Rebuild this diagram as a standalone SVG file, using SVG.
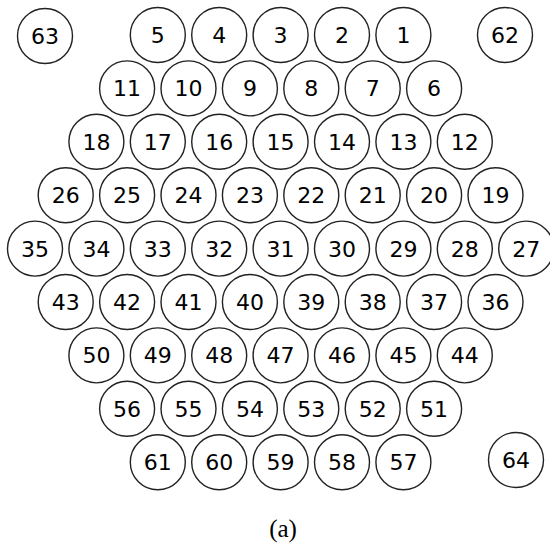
<svg xmlns="http://www.w3.org/2000/svg" width="550" height="544" viewBox="0 0 550 544">
<style>
.n circle{fill:#fff;stroke:#222;stroke-width:1.4}
.n text{font-family:"DejaVu Sans","Verdana",sans-serif;font-size:22px;fill:#000;text-anchor:middle}
.cap{font-family:"Liberation Serif","DejaVu Serif",serif;font-size:25px;text-anchor:middle;fill:#000}
</style>
<rect width="550" height="544" fill="#fff"/>
<g id="nodes">
<g id="n63" class="n"><circle cx="45" cy="36" r="27.5"/><text x="45" y="44">63</text></g>
<g id="n5" class="n"><circle cx="157.8" cy="35" r="27.5"/><text x="157.8" y="43">5</text></g>
<g id="n4" class="n"><circle cx="219.2" cy="35" r="27.5"/><text x="219.2" y="43">4</text></g>
<g id="n3" class="n"><circle cx="280.6" cy="35" r="27.5"/><text x="280.6" y="43">3</text></g>
<g id="n2" class="n"><circle cx="342" cy="35" r="27.5"/><text x="342" y="43">2</text></g>
<g id="n1" class="n"><circle cx="403.4" cy="35" r="27.5"/><text x="403.4" y="43">1</text></g>
<g id="n62" class="n"><circle cx="505" cy="35" r="27.5"/><text x="505" y="43">62</text></g>

<g id="n11" class="n"><circle cx="127.1" cy="88.4" r="27.5"/><text x="127.1" y="96.4">11</text></g>
<g id="n10" class="n"><circle cx="188.5" cy="88.4" r="27.5"/><text x="188.5" y="96.4">10</text></g>
<g id="n9" class="n"><circle cx="249.9" cy="88.4" r="27.5"/><text x="249.9" y="96.4">9</text></g>
<g id="n8" class="n"><circle cx="311.3" cy="88.4" r="27.5"/><text x="311.3" y="96.4">8</text></g>
<g id="n7" class="n"><circle cx="372.7" cy="88.4" r="27.5"/><text x="372.7" y="96.4">7</text></g>
<g id="n6" class="n"><circle cx="434.1" cy="88.4" r="27.5"/><text x="434.1" y="96.4">6</text></g>

<g id="n18" class="n"><circle cx="96.4" cy="141.8" r="27.5"/><text x="96.4" y="149.8">18</text></g>
<g id="n17" class="n"><circle cx="157.8" cy="141.8" r="27.5"/><text x="157.8" y="149.8">17</text></g>
<g id="n16" class="n"><circle cx="219.2" cy="141.8" r="27.5"/><text x="219.2" y="149.8">16</text></g>
<g id="n15" class="n"><circle cx="280.6" cy="141.8" r="27.5"/><text x="280.6" y="149.8">15</text></g>
<g id="n14" class="n"><circle cx="342" cy="141.8" r="27.5"/><text x="342" y="149.8">14</text></g>
<g id="n13" class="n"><circle cx="403.4" cy="141.8" r="27.5"/><text x="403.4" y="149.8">13</text></g>
<g id="n12" class="n"><circle cx="464.8" cy="141.8" r="27.5"/><text x="464.8" y="149.8">12</text></g>

<g id="n26" class="n"><circle cx="65.7" cy="195.2" r="27.5"/><text x="65.7" y="203.2">26</text></g>
<g id="n25" class="n"><circle cx="127.1" cy="195.2" r="27.5"/><text x="127.1" y="203.2">25</text></g>
<g id="n24" class="n"><circle cx="188.5" cy="195.2" r="27.5"/><text x="188.5" y="203.2">24</text></g>
<g id="n23" class="n"><circle cx="249.9" cy="195.2" r="27.5"/><text x="249.9" y="203.2">23</text></g>
<g id="n22" class="n"><circle cx="311.3" cy="195.2" r="27.5"/><text x="311.3" y="203.2">22</text></g>
<g id="n21" class="n"><circle cx="372.7" cy="195.2" r="27.5"/><text x="372.7" y="203.2">21</text></g>
<g id="n20" class="n"><circle cx="434.1" cy="195.2" r="27.5"/><text x="434.1" y="203.2">20</text></g>
<g id="n19" class="n"><circle cx="495.5" cy="195.2" r="27.5"/><text x="495.5" y="203.2">19</text></g>

<g id="n35" class="n"><circle cx="35" cy="248.6" r="27.5"/><text x="35" y="256.6">35</text></g>
<g id="n34" class="n"><circle cx="96.4" cy="248.6" r="27.5"/><text x="96.4" y="256.6">34</text></g>
<g id="n33" class="n"><circle cx="157.8" cy="248.6" r="27.5"/><text x="157.8" y="256.6">33</text></g>
<g id="n32" class="n"><circle cx="219.2" cy="248.6" r="27.5"/><text x="219.2" y="256.6">32</text></g>
<g id="n31" class="n"><circle cx="280.6" cy="248.6" r="27.5"/><text x="280.6" y="256.6">31</text></g>
<g id="n30" class="n"><circle cx="342" cy="248.6" r="27.5"/><text x="342" y="256.6">30</text></g>
<g id="n29" class="n"><circle cx="403.4" cy="248.6" r="27.5"/><text x="403.4" y="256.6">29</text></g>
<g id="n28" class="n"><circle cx="464.8" cy="248.6" r="27.5"/><text x="464.8" y="256.6">28</text></g>
<g id="n27" class="n"><circle cx="526.2" cy="248.6" r="27.5"/><text x="526.2" y="256.6">27</text></g>

<g id="n43" class="n"><circle cx="65.7" cy="302" r="27.5"/><text x="65.7" y="310">43</text></g>
<g id="n42" class="n"><circle cx="127.1" cy="302" r="27.5"/><text x="127.1" y="310">42</text></g>
<g id="n41" class="n"><circle cx="188.5" cy="302" r="27.5"/><text x="188.5" y="310">41</text></g>
<g id="n40" class="n"><circle cx="249.9" cy="302" r="27.5"/><text x="249.9" y="310">40</text></g>
<g id="n39" class="n"><circle cx="311.3" cy="302" r="27.5"/><text x="311.3" y="310">39</text></g>
<g id="n38" class="n"><circle cx="372.7" cy="302" r="27.5"/><text x="372.7" y="310">38</text></g>
<g id="n37" class="n"><circle cx="434.1" cy="302" r="27.5"/><text x="434.1" y="310">37</text></g>
<g id="n36" class="n"><circle cx="495.5" cy="302" r="27.5"/><text x="495.5" y="310">36</text></g>

<g id="n50" class="n"><circle cx="96.4" cy="355.4" r="27.5"/><text x="96.4" y="363.4">50</text></g>
<g id="n49" class="n"><circle cx="157.8" cy="355.4" r="27.5"/><text x="157.8" y="363.4">49</text></g>
<g id="n48" class="n"><circle cx="219.2" cy="355.4" r="27.5"/><text x="219.2" y="363.4">48</text></g>
<g id="n47" class="n"><circle cx="280.6" cy="355.4" r="27.5"/><text x="280.6" y="363.4">47</text></g>
<g id="n46" class="n"><circle cx="342" cy="355.4" r="27.5"/><text x="342" y="363.4">46</text></g>
<g id="n45" class="n"><circle cx="403.4" cy="355.4" r="27.5"/><text x="403.4" y="363.4">45</text></g>
<g id="n44" class="n"><circle cx="464.8" cy="355.4" r="27.5"/><text x="464.8" y="363.4">44</text></g>

<g id="n56" class="n"><circle cx="127.1" cy="408.8" r="27.5"/><text x="127.1" y="416.8">56</text></g>
<g id="n55" class="n"><circle cx="188.5" cy="408.8" r="27.5"/><text x="188.5" y="416.8">55</text></g>
<g id="n54" class="n"><circle cx="249.9" cy="408.8" r="27.5"/><text x="249.9" y="416.8">54</text></g>
<g id="n53" class="n"><circle cx="311.3" cy="408.8" r="27.5"/><text x="311.3" y="416.8">53</text></g>
<g id="n52" class="n"><circle cx="372.7" cy="408.8" r="27.5"/><text x="372.7" y="416.8">52</text></g>
<g id="n51" class="n"><circle cx="434.1" cy="408.8" r="27.5"/><text x="434.1" y="416.8">51</text></g>

<g id="n61" class="n"><circle cx="157.8" cy="462.2" r="27.5"/><text x="157.8" y="470.2">61</text></g>
<g id="n60" class="n"><circle cx="219.2" cy="462.2" r="27.5"/><text x="219.2" y="470.2">60</text></g>
<g id="n59" class="n"><circle cx="280.6" cy="462.2" r="27.5"/><text x="280.6" y="470.2">59</text></g>
<g id="n58" class="n"><circle cx="342" cy="462.2" r="27.5"/><text x="342" y="470.2">58</text></g>
<g id="n57" class="n"><circle cx="403.4" cy="462.2" r="27.5"/><text x="403.4" y="470.2">57</text></g>
<g id="n64" class="n"><circle cx="516" cy="460" r="27.5"/><text x="516" y="468">64</text></g>
</g>
<g id="connectors"/>
<text class="cap" x="283" y="537">(a)</text>
</svg>
